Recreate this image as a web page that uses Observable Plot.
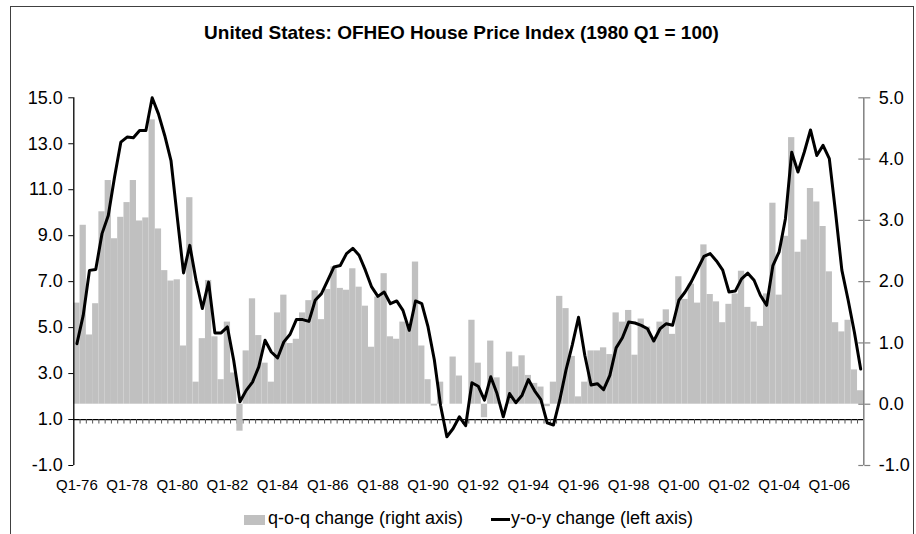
<!DOCTYPE html>
<html><head><meta charset="utf-8">
<script src="https://cdn.jsdelivr.net/npm/d3@7"></script>
<script src="https://cdn.jsdelivr.net/npm/@observablehq/plot@0.6"></script>
<style>
body{margin:0;background:#fff;font-family:"Liberation Sans",Arial,sans-serif;color:#000}
#wrap{position:relative;width:916px;height:534px;overflow:hidden}
#border{position:absolute;left:10px;top:6px;width:904px;height:600px;border:1.6px solid #404040;box-sizing:border-box}
#title{position:absolute;left:0;width:923px;top:23px;text-align:center;font-weight:bold;font-size:19px;line-height:19px;white-space:nowrap}
#chart{position:absolute;left:0;top:0}
.lg{position:absolute;font-size:18px;line-height:18px;white-space:nowrap}
</style></head>
<body><div id="wrap">
<div id="border"></div>
<div id="chart"></div>
<div id="title">United States: OFHEO House Price Index (1980 Q1 = 100)</div>
<div style="position:absolute;left:244px;top:515px;width:21px;height:10px;background:#c0c0c0"></div>
<div class="lg" style="left:268px;top:509px">q-o-q change (right axis)</div>
<div style="position:absolute;left:491px;top:518px;width:19px;height:3px;background:#000"></div>
<div class="lg" style="left:511px;top:509px">y-o-y change (left axis)</div>
</div>
<script>
// quarterly data, Q1-76 .. Q2-07 (126 quarters)
const tickLabels = ["Q1-76","Q1-78","Q1-80","Q1-82","Q1-84","Q1-86","Q1-88","Q1-90","Q1-92","Q1-94","Q1-96","Q1-98","Q1-00","Q1-02","Q1-04","Q1-06"];
// q-o-q change (right axis, %)
const qoq = [
1.65,2.92,1.13,1.64,3.14,3.65,2.70,3.05,3.29,3.65,
2.99,3.04,4.64,2.86,2.18,2.01,2.03,0.95,3.37,0.36,
1.07,2.02,1.10,0.40,1.34,0.51,-0.44,0.87,1.72,1.12,
0.67,0.36,1.49,1.78,0.99,1.06,1.49,1.69,1.85,1.38,
1.87,2.24,1.89,1.86,2.21,1.91,1.60,0.93,1.75,2.13,
1.10,1.06,1.34,1.30,2.32,0.95,0.40,-0.03,0.36,0.00,
0.77,0.46,0.00,1.37,0.67,-0.22,1.03,0.43,0.00,0.85,
0.61,0.79,0.47,0.34,0.28,-0.04,0.36,1.76,1.56,0.78,
0.12,0.36,0.87,0.87,0.92,0.81,1.49,1.34,1.53,0.80,
1.39,1.26,1.07,1.34,1.54,1.14,2.08,1.71,1.96,1.65,
2.60,1.79,1.67,1.33,1.63,1.80,2.17,1.58,1.34,1.27,
1.80,3.28,1.78,2.74,4.35,2.48,2.68,3.52,3.30,2.90,
2.16,1.33,1.18,1.37,0.56,0.22];
// y-o-y change (left axis, %)
const yoy = [
4.30,5.53,7.49,7.53,9.09,9.88,11.55,13.07,13.29,13.26,
13.58,13.58,15.00,14.30,13.36,12.27,9.81,7.38,8.58,7.06,
5.83,6.98,4.77,4.77,5.03,3.58,1.77,2.27,2.63,3.29,
4.45,3.94,3.68,4.38,4.71,5.35,5.35,5.27,6.19,6.48,
7.06,7.64,7.70,8.22,8.45,8.15,7.50,6.77,6.36,6.55,
6.04,6.16,5.75,4.88,6.16,6.04,5.03,3.60,1.60,0.25,
0.61,1.12,0.73,2.60,2.45,1.84,2.86,2.13,1.12,2.13,
1.73,2.06,2.74,2.25,1.87,0.86,0.76,1.84,3.15,4.24,
5.45,3.80,2.50,2.56,2.30,2.92,4.12,4.56,5.24,5.20,
5.10,4.95,4.42,4.95,5.17,5.10,6.19,6.55,7.00,7.55,
8.10,8.22,7.90,7.50,6.55,6.59,7.12,7.37,7.06,6.41,
5.97,7.70,8.30,9.74,12.63,11.77,12.63,13.60,12.49,12.93,
12.35,10.00,7.50,6.20,4.80,3.20];
const leftTicks = [-1,1,3,5,7,9,11,13,15];
const rightTicks = [-1,0,1,2,3,4,5];

// right axis (-1..5) shares the frame with the left axis (-1..15)
const k = 16/6, L0 = -1 + k;
const toLeft = r => L0 + r * k;
const rows = qoq.map((q, i) => ({i, q, y: yoy[i]}));
const n = rows.length;
const xLo = -0.5, xHi = n - 0.5;
const pxPerQ = 790 / n;

const chart = Plot.plot({
  width: 916, height: 534,
  marginLeft: 73.3, marginRight: 52.7, marginTop: 97.3, marginBottom: 69,
  x: {domain: [xLo, xHi]},
  y: {domain: [-1, 15]},
  style: {fontFamily: "'Liberation Sans', Arial, sans-serif", color: "#000", background: "transparent", overflow: "visible"},
  marks: [
    Plot.ruleY([1], {x1: xLo, x2: xHi, stroke: "#000", strokeWidth: 1.3}),
    Plot.ruleX(d3.range(n - 1).map(i => i + 0.5), {y1: 1, y2: 1 - 4.5/23, stroke: "#555", strokeWidth: 1}),
    Plot.rectY(rows, {x1: d => d.i - 0.5, x2: d => d.i + 0.5, y1: L0, y2: d => toLeft(d.q), fill: "#c0c0c0"}),
    Plot.line(rows, {x: "i", y: "y", stroke: "#000", strokeWidth: 3, strokeLinejoin: "round"}),
    Plot.ruleX([xLo], {y1: -1, y2: 15, stroke: "#000", strokeWidth: 1.3}),
    Plot.ruleX([xHi], {y1: -1, y2: 15, stroke: "#808080", strokeWidth: 1.5}),
    Plot.ruleY(rightTicks.map(toLeft), {x1: xHi - 5/pxPerQ, x2: xHi, stroke: "#808080", strokeWidth: 1.2}),
    Plot.axisY(leftTicks, {anchor: "left", tickFormat: d => d.toFixed(1), tickSize: 5, tickPadding: 6, fontSize: 18, label: null, stroke: "#000"}),
    Plot.axisY(rightTicks.map(toLeft), {anchor: "right", tickFormat: v => (Math.round((v - L0) / k * 10) / 10).toFixed(1), tickSize: 6, tickPadding: 9, fontSize: 18, label: null, stroke: "#808080", strokeWidth: 1.2}),
    Plot.axisX(tickLabels.map((_, j) => j * 8), {anchor: "bottom", tickFormat: v => tickLabels[v / 8], tickSize: 0, tickPadding: 14, fontSize: 15, label: null})
  ]
});
document.getElementById("chart").appendChild(chart);
</script>
</body></html>
